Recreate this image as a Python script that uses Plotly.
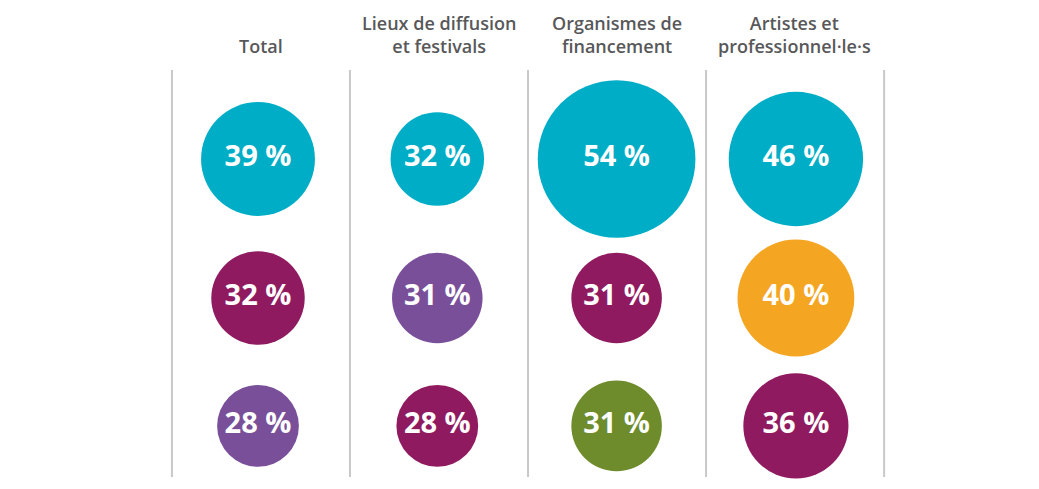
import plotly.graph_objects as go

# column headers and values (rows top to bottom)
headers = ["Total", "Lieux de diffusion<br>et festivals", "Organismes de<br>financement",
           "Artistes et<br>professionnel·le·s"]
total = [39, 32, 28]
lieux = [32, 31, 28]
organismes = [54, 31, 31]
artistes = [46, 40, 36]

teal = "#00ADC6"
magenta = "#8F1A5F"
purple = "#7A4F9A"
olive = "#6E8C2B"
orange = "#F4A521"

colours = [
    [teal, magenta, purple],
    [teal, purple, magenta],
    [teal, magenta, olive],
    [teal, orange, magenta],
]

columns = [total, lieux, organismes, artistes]
row_pos = [0, 1, 1.92]
col_pos = [0, 1, 2, 3]

xs, ys, vals, cols = [], [], [], []
for ci, col in enumerate(columns):
    for ri, v in enumerate(col):
        xs.append(col_pos[ci])
        ys.append(row_pos[ri])
        vals.append(v)
        cols.append(colours[ci][ri])

fig = go.Figure()
fig.add_trace(go.Scatter(
    x=xs, y=ys,
    mode="markers+text",
    marker=dict(size=vals, sizemode="diameter", sizeref=1 / 2.92,
                color=cols, opacity=1, line=dict(width=0)),
    text=[f"{v} %" for v in vals],
    textposition="middle center",
    textfont=dict(family="Open Sans", size=29, color="white", weight="bold"),
    hoverinfo="skip",
    showlegend=False,
))

# vertical separators
for i in range(5):
    x_line = i * 0.993 - 0.48
    fig.add_shape(type="line", x0=x_line, x1=x_line, y0=-0.64, y1=2.288,
                  line=dict(color="#C8C8C8", width=2), layer="below")

for i, h in enumerate(headers):
    fig.add_annotation(x=i * 0.993 + 0.015, y=1 - 52 / 489, xref="x", yref="paper",
                       text=h, showarrow=False, yanchor="bottom",
                       font=dict(family="Open Sans", size=18, color="#58585A", weight=600),
                       align="center")

# page body adds ~7px offset; shift data window to compensate
ox, oy = 250, 151
fig.update_layout(
    width=1039, height=489,
    margin=dict(l=0, r=0, t=0, b=0),
    paper_bgcolor="white", plot_bgcolor="white",
    xaxis=dict(range=[-ox / 179.3, (1039 - ox) / 179.3], visible=False),
    yaxis=dict(range=[(489 - oy) / 139, -oy / 139], visible=False),
)

fig.write_html("out.html")
